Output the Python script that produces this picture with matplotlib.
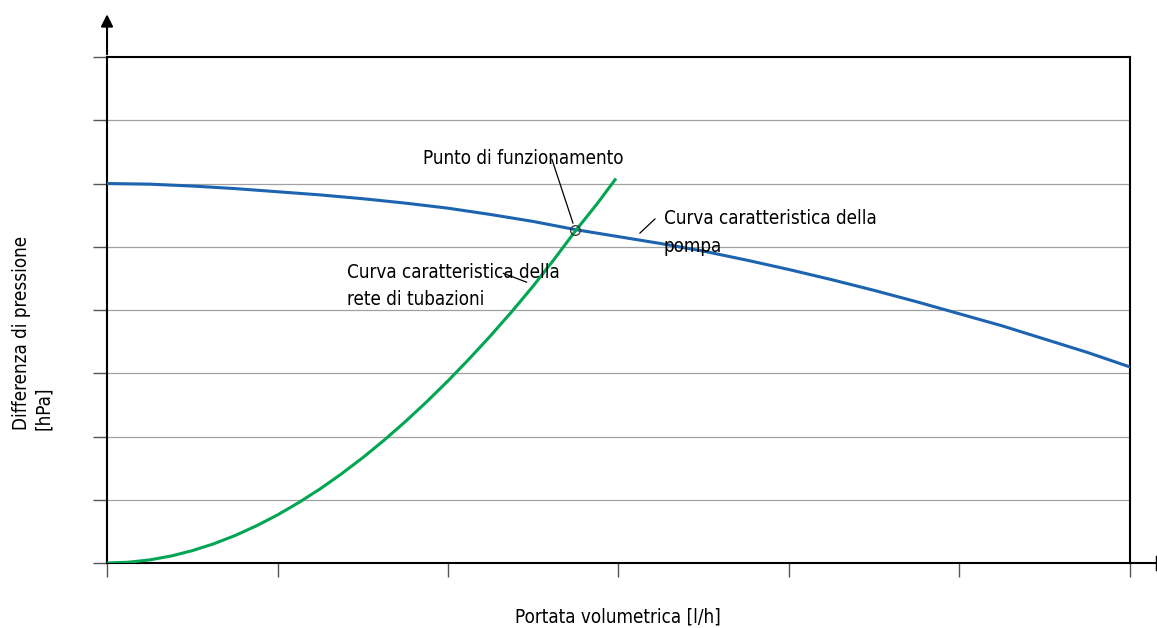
import numpy as np
import matplotlib.pyplot as plt

# curva della pompa
pump_x = [0, 0.25, 0.5, 0.75, 1, 1.25, 1.5, 1.75, 2, 2.25, 2.5, 2.75, 3,
          3.25, 3.5, 3.75, 4, 4.25, 4.5, 4.75, 5, 5.25, 5.5, 5.75, 6]
pump_y = [6.00, 5.99, 5.96, 5.92, 5.87, 5.82, 5.76, 5.69, 5.61, 5.51, 5.40, 5.27, 5.16,
          5.05, 4.93, 4.79, 4.64, 4.48, 4.31, 4.13, 3.94, 3.75, 3.54, 3.33, 3.10]

# curva della rete di tubazioni
net_x = [0, 0.125, 0.25, 0.375, 0.5, 0.625, 0.75, 0.875, 1.0, 1.125, 1.25, 1.375,
         1.5, 1.625, 1.75, 1.875, 2.0, 2.125, 2.25, 2.375, 2.5, 2.625, 2.75, 2.875, 2.98]
net_y = [0, 0.012, 0.049, 0.110, 0.195, 0.303, 0.433, 0.586, 0.76, 0.956, 1.172, 1.409,
         1.665, 1.941, 2.236, 2.549, 2.88, 3.229, 3.594, 3.977, 4.38, 4.81, 5.26, 5.68, 6.06]

op_x, op_y = 2.745, 5.26

x_ticks = [0, 1, 2, 3, 4, 5, 6]
y_ticks = [0, 1, 2, 3, 4, 5, 6, 7, 8]

plt.rcParams['font.family'] = ['DejaVu Sans']
plt.rcParams['font.stretch'] = 'condensed'

fig = plt.figure(figsize=(11.57, 6.28), dpi=100)
ax = fig.add_axes([0.0925, 0.1035, 0.8841, 0.8057])

for yv in y_ticks[1:-1]:
    ax.axhline(yv, color='#a0a0a0', lw=0.9, zorder=1)

ax.plot(pump_x, pump_y, color='#1c63b0', lw=2.2, zorder=3)
ax.plot(net_x, net_y, color='#00a651', lw=2.2, zorder=3)
ax.plot([op_x], [op_y], 'o', ms=7, mfc='none', mec='#333333', mew=0.9, zorder=4)

ax.set_xlim(0, 6)
ax.set_ylim(0, 8)
ax.set_xticks(x_ticks)
ax.set_yticks(y_ticks)
ax.set_xticklabels([])
ax.set_yticklabels([])
ax.tick_params(axis='both', length=10, width=1.0, color='#555555')
for s in ax.spines.values():
    s.set_linewidth(1.5)
    s.set_color('black')

# frecce degli assi
ax.annotate('', xy=(0, 1.09), xytext=(0, 1.0), xycoords='axes fraction',
            arrowprops=dict(arrowstyle='-|>', color='black', lw=1.5, mutation_scale=18))
ax.plot([1.0, 1.0264], [0, 0], color='black', lw=1.5, transform=ax.transAxes, clip_on=False)
ax.plot([1.0264, 1.0264], [-0.012, 0.012], color='black', lw=2.5, transform=ax.transAxes, clip_on=False)

fs = 13.5
ax.text(1.853, 6.40, 'Punto di funzionamento', fontsize=fs, ha='left', va='center')
ax.plot([2.61, 2.733], [6.38, 5.375], color='black', lw=0.9)

ax.text(3.267, 5.44, 'Curva caratteristica della', fontsize=fs, ha='left', va='center')
ax.text(3.267, 5.00, 'pompa', fontsize=fs, ha='left', va='center')
ax.plot([3.126, 3.214], [5.217, 5.439], color='black', lw=0.9)

ax.text(1.408, 4.60, 'Curva caratteristica della', fontsize=fs, ha='left', va='center')
ax.text(1.408, 4.16, 'rete di tubazioni', fontsize=fs, ha='left', va='center')
ax.plot([2.325, 2.461], [4.58, 4.44], color='black', lw=0.9)

fig.text(0.0277, 0.315, 'Differenza di pressione\n[hPa]', rotation=90, fontsize=fs,
         ha='center', va='bottom', multialignment='left')
fig.text(0.534, 0.0175, 'Portata volumetrica [l/h]', fontsize=fs, ha='center', va='center')

plt.savefig('out.png', dpi=100)
